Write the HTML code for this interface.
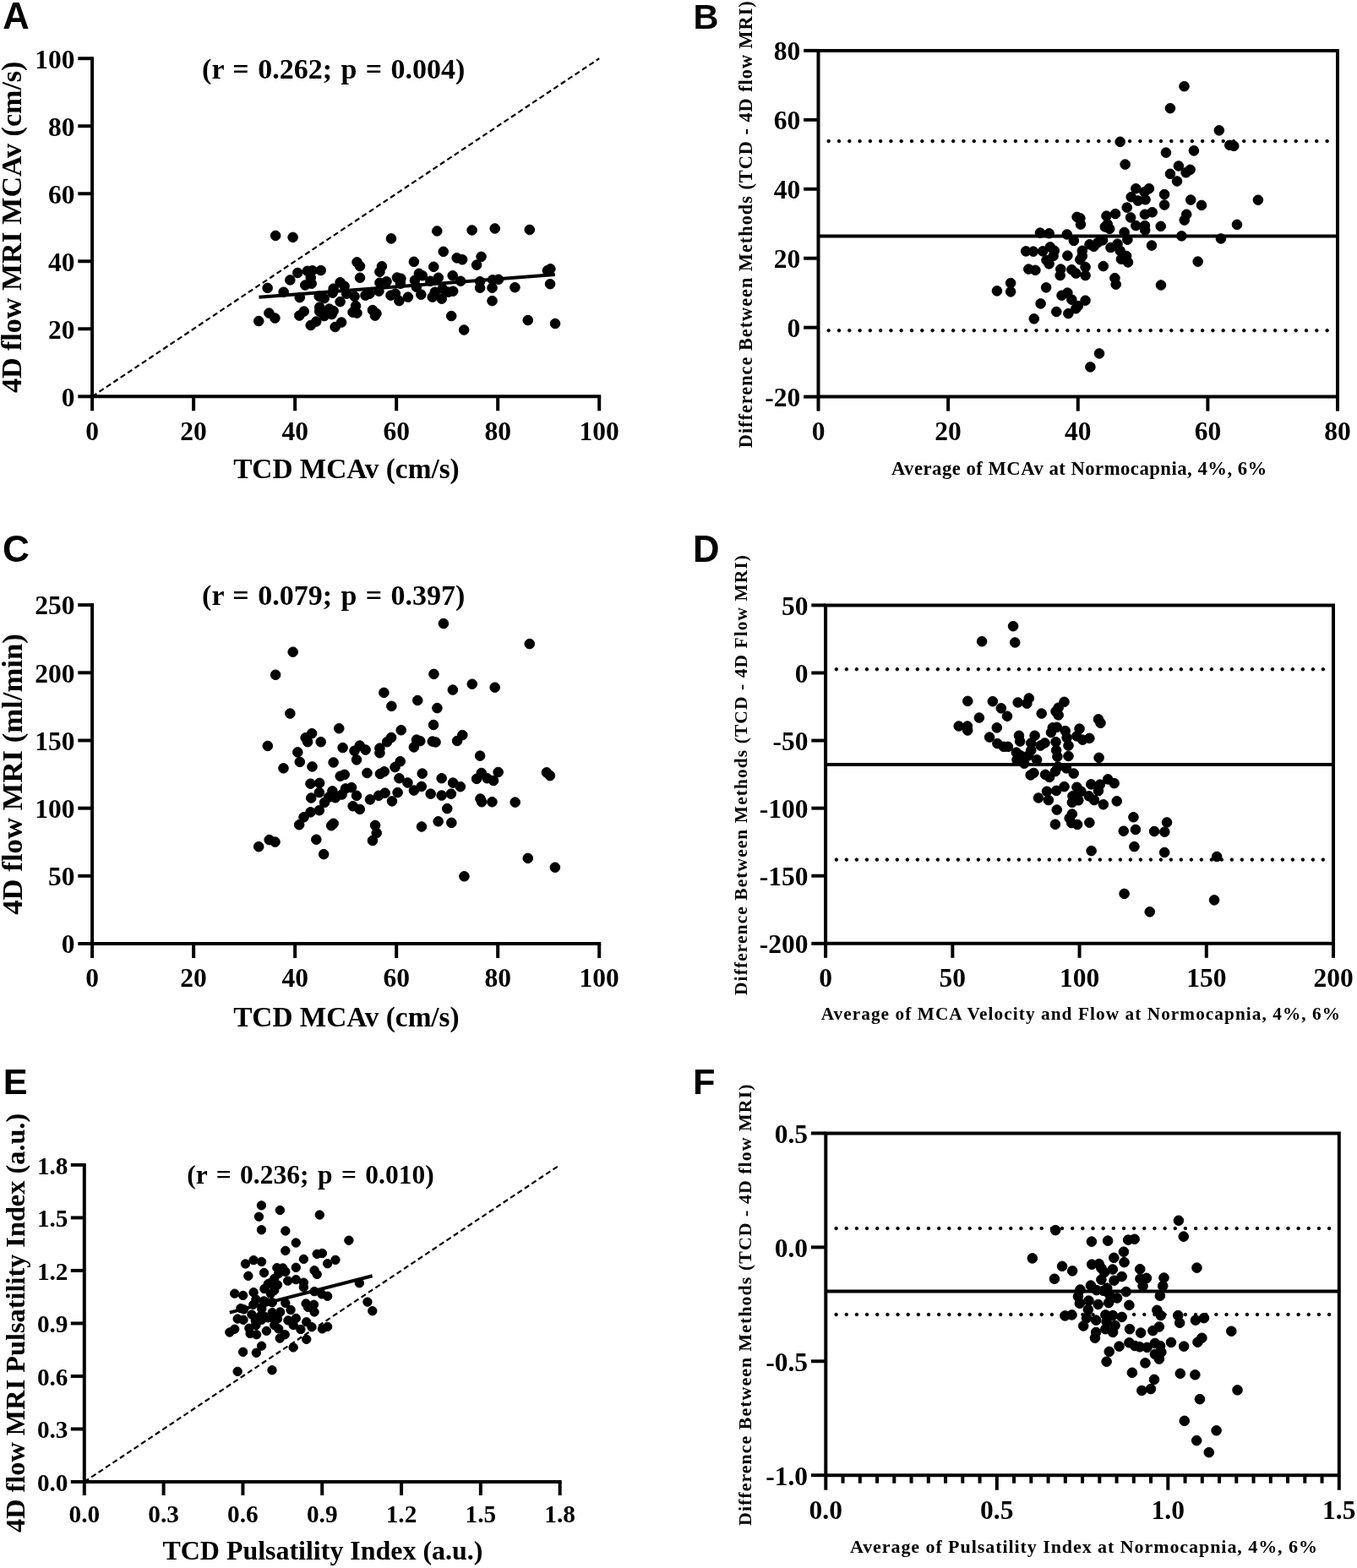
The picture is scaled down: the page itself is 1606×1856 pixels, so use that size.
<!DOCTYPE html>
<html><head><meta charset="utf-8"><title>Figure</title>
<style>
html,body{margin:0;padding:0;background:#fff;}
svg{display:block;}
.t{font-family:"Liberation Serif", "Times New Roman", serif;font-weight:bold;fill:#000;}
.s{font-family:"Liberation Sans", Arial, sans-serif;font-weight:bold;fill:#000;}
</style></head><body>
<svg width="1606" height="1856" viewBox="0 0 1606 1856">
<rect width="1606" height="1856" fill="#fff"/>
<g stroke="#000" fill="#000">
<line x1="109.1" y1="69.2" x2="109.1" y2="469.3" stroke-width="4" stroke-linecap="square"/>
<line x1="109.1" y1="469.3" x2="709.2" y2="469.3" stroke-width="4" stroke-linecap="square"/>
<line x1="109.1" y1="469.3" x2="109.1" y2="486.3" stroke-width="4" stroke-linecap="butt"/>
<line x1="229.12" y1="469.3" x2="229.12" y2="486.3" stroke-width="4" stroke-linecap="butt"/>
<line x1="349.14" y1="469.3" x2="349.14" y2="486.3" stroke-width="4" stroke-linecap="butt"/>
<line x1="469.16" y1="469.3" x2="469.16" y2="486.3" stroke-width="4" stroke-linecap="butt"/>
<line x1="589.18" y1="469.3" x2="589.18" y2="486.3" stroke-width="4" stroke-linecap="butt"/>
<line x1="709.2" y1="469.3" x2="709.2" y2="486.3" stroke-width="4" stroke-linecap="butt"/>
<line x1="92.3" y1="469.3" x2="109.1" y2="469.3" stroke-width="4" stroke-linecap="butt"/>
<line x1="92.3" y1="389.28" x2="109.1" y2="389.28" stroke-width="4" stroke-linecap="butt"/>
<line x1="92.3" y1="309.26" x2="109.1" y2="309.26" stroke-width="4" stroke-linecap="butt"/>
<line x1="92.3" y1="229.24" x2="109.1" y2="229.24" stroke-width="4" stroke-linecap="butt"/>
<line x1="92.3" y1="149.22" x2="109.1" y2="149.22" stroke-width="4" stroke-linecap="butt"/>
<line x1="92.3" y1="69.2" x2="109.1" y2="69.2" stroke-width="4" stroke-linecap="butt"/>
<line x1="109.1" y1="469.3" x2="709.2" y2="69.2" stroke-width="2.2" stroke-linecap="butt" stroke-dasharray="6.3 3.8"/>
<line x1="109.1" y1="716.1" x2="109.1" y2="1117" stroke-width="4" stroke-linecap="square"/>
<line x1="109.1" y1="1117" x2="709.2" y2="1117" stroke-width="4" stroke-linecap="square"/>
<line x1="109.1" y1="1117" x2="109.1" y2="1134" stroke-width="4" stroke-linecap="butt"/>
<line x1="229.12" y1="1117" x2="229.12" y2="1134" stroke-width="4" stroke-linecap="butt"/>
<line x1="349.14" y1="1117" x2="349.14" y2="1134" stroke-width="4" stroke-linecap="butt"/>
<line x1="469.16" y1="1117" x2="469.16" y2="1134" stroke-width="4" stroke-linecap="butt"/>
<line x1="589.18" y1="1117" x2="589.18" y2="1134" stroke-width="4" stroke-linecap="butt"/>
<line x1="709.2" y1="1117" x2="709.2" y2="1134" stroke-width="4" stroke-linecap="butt"/>
<line x1="92.3" y1="1117" x2="109.1" y2="1117" stroke-width="4" stroke-linecap="butt"/>
<line x1="92.3" y1="1036.82" x2="109.1" y2="1036.82" stroke-width="4" stroke-linecap="butt"/>
<line x1="92.3" y1="956.64" x2="109.1" y2="956.64" stroke-width="4" stroke-linecap="butt"/>
<line x1="92.3" y1="876.46" x2="109.1" y2="876.46" stroke-width="4" stroke-linecap="butt"/>
<line x1="92.3" y1="796.28" x2="109.1" y2="796.28" stroke-width="4" stroke-linecap="butt"/>
<line x1="92.3" y1="716.1" x2="109.1" y2="716.1" stroke-width="4" stroke-linecap="butt"/>
<line x1="99.8" y1="1378.88" x2="99.8" y2="1754" stroke-width="4" stroke-linecap="square"/>
<line x1="99.8" y1="1754" x2="662.66" y2="1754" stroke-width="4" stroke-linecap="square"/>
<line x1="99.8" y1="1754" x2="99.8" y2="1770" stroke-width="4" stroke-linecap="butt"/>
<line x1="193.61" y1="1754" x2="193.61" y2="1770" stroke-width="4" stroke-linecap="butt"/>
<line x1="287.42" y1="1754" x2="287.42" y2="1770" stroke-width="4" stroke-linecap="butt"/>
<line x1="381.23" y1="1754" x2="381.23" y2="1770" stroke-width="4" stroke-linecap="butt"/>
<line x1="475.04" y1="1754" x2="475.04" y2="1770" stroke-width="4" stroke-linecap="butt"/>
<line x1="568.85" y1="1754" x2="568.85" y2="1770" stroke-width="4" stroke-linecap="butt"/>
<line x1="662.66" y1="1754" x2="662.66" y2="1770" stroke-width="4" stroke-linecap="butt"/>
<line x1="83.8" y1="1754" x2="99.8" y2="1754" stroke-width="4" stroke-linecap="butt"/>
<line x1="83.8" y1="1691.48" x2="99.8" y2="1691.48" stroke-width="4" stroke-linecap="butt"/>
<line x1="83.8" y1="1628.96" x2="99.8" y2="1628.96" stroke-width="4" stroke-linecap="butt"/>
<line x1="83.8" y1="1566.44" x2="99.8" y2="1566.44" stroke-width="4" stroke-linecap="butt"/>
<line x1="83.8" y1="1503.92" x2="99.8" y2="1503.92" stroke-width="4" stroke-linecap="butt"/>
<line x1="83.8" y1="1441.4" x2="99.8" y2="1441.4" stroke-width="4" stroke-linecap="butt"/>
<line x1="83.8" y1="1378.88" x2="99.8" y2="1378.88" stroke-width="4" stroke-linecap="butt"/>
<line x1="99.8" y1="1754" x2="662.66" y2="1378.88" stroke-width="2.2" stroke-linecap="butt" stroke-dasharray="6.3 3.8"/>
<path d="M968.5,469.6 L968.5,59.9 L1583,59.9 L1583,469.6 Z" fill="none" stroke-width="4" stroke-linecap="square" stroke-linejoin="miter"/>
<line x1="968.5" y1="469.6" x2="968.5" y2="486.6" stroke-width="4" stroke-linecap="butt"/>
<line x1="1122.12" y1="469.6" x2="1122.12" y2="486.6" stroke-width="4" stroke-linecap="butt"/>
<line x1="1275.75" y1="469.6" x2="1275.75" y2="486.6" stroke-width="4" stroke-linecap="butt"/>
<line x1="1429.38" y1="469.6" x2="1429.38" y2="486.6" stroke-width="4" stroke-linecap="butt"/>
<line x1="1583" y1="469.6" x2="1583" y2="486.6" stroke-width="4" stroke-linecap="butt"/>
<line x1="951.1" y1="469.6" x2="968.5" y2="469.6" stroke-width="4" stroke-linecap="butt"/>
<line x1="951.1" y1="387.66" x2="968.5" y2="387.66" stroke-width="4" stroke-linecap="butt"/>
<line x1="951.1" y1="305.72" x2="968.5" y2="305.72" stroke-width="4" stroke-linecap="butt"/>
<line x1="951.1" y1="223.78" x2="968.5" y2="223.78" stroke-width="4" stroke-linecap="butt"/>
<line x1="951.1" y1="141.84" x2="968.5" y2="141.84" stroke-width="4" stroke-linecap="butt"/>
<line x1="951.1" y1="59.9" x2="968.5" y2="59.9" stroke-width="4" stroke-linecap="butt"/>
<line x1="968.5" y1="279.5" x2="1583" y2="279.5" stroke-width="4" stroke-linecap="butt"/>
<circle cx="980.7" cy="167.1" r="1.75"/>
<circle cx="992.99" cy="167.1" r="1.75"/>
<circle cx="1005.28" cy="167.1" r="1.75"/>
<circle cx="1017.57" cy="167.1" r="1.75"/>
<circle cx="1029.86" cy="167.1" r="1.75"/>
<circle cx="1042.15" cy="167.1" r="1.75"/>
<circle cx="1054.44" cy="167.1" r="1.75"/>
<circle cx="1066.73" cy="167.1" r="1.75"/>
<circle cx="1079.02" cy="167.1" r="1.75"/>
<circle cx="1091.31" cy="167.1" r="1.75"/>
<circle cx="1103.6" cy="167.1" r="1.75"/>
<circle cx="1115.89" cy="167.1" r="1.75"/>
<circle cx="1128.17" cy="167.1" r="1.75"/>
<circle cx="1140.46" cy="167.1" r="1.75"/>
<circle cx="1152.75" cy="167.1" r="1.75"/>
<circle cx="1165.04" cy="167.1" r="1.75"/>
<circle cx="1177.33" cy="167.1" r="1.75"/>
<circle cx="1189.62" cy="167.1" r="1.75"/>
<circle cx="1201.91" cy="167.1" r="1.75"/>
<circle cx="1214.2" cy="167.1" r="1.75"/>
<circle cx="1226.49" cy="167.1" r="1.75"/>
<circle cx="1238.78" cy="167.1" r="1.75"/>
<circle cx="1251.07" cy="167.1" r="1.75"/>
<circle cx="1263.36" cy="167.1" r="1.75"/>
<circle cx="1275.65" cy="167.1" r="1.75"/>
<circle cx="1287.94" cy="167.1" r="1.75"/>
<circle cx="1300.23" cy="167.1" r="1.75"/>
<circle cx="1312.52" cy="167.1" r="1.75"/>
<circle cx="1324.81" cy="167.1" r="1.75"/>
<circle cx="1337.1" cy="167.1" r="1.75"/>
<circle cx="1349.39" cy="167.1" r="1.75"/>
<circle cx="1361.68" cy="167.1" r="1.75"/>
<circle cx="1373.97" cy="167.1" r="1.75"/>
<circle cx="1386.26" cy="167.1" r="1.75"/>
<circle cx="1398.55" cy="167.1" r="1.75"/>
<circle cx="1410.84" cy="167.1" r="1.75"/>
<circle cx="1423.12" cy="167.1" r="1.75"/>
<circle cx="1435.41" cy="167.1" r="1.75"/>
<circle cx="1447.7" cy="167.1" r="1.75"/>
<circle cx="1459.99" cy="167.1" r="1.75"/>
<circle cx="1472.28" cy="167.1" r="1.75"/>
<circle cx="1484.57" cy="167.1" r="1.75"/>
<circle cx="1496.86" cy="167.1" r="1.75"/>
<circle cx="1509.15" cy="167.1" r="1.75"/>
<circle cx="1521.44" cy="167.1" r="1.75"/>
<circle cx="1533.73" cy="167.1" r="1.75"/>
<circle cx="1546.02" cy="167.1" r="1.75"/>
<circle cx="1558.31" cy="167.1" r="1.75"/>
<circle cx="1570.6" cy="167.1" r="1.75"/>
<circle cx="980.7" cy="391.2" r="1.75"/>
<circle cx="992.99" cy="391.2" r="1.75"/>
<circle cx="1005.28" cy="391.2" r="1.75"/>
<circle cx="1017.57" cy="391.2" r="1.75"/>
<circle cx="1029.86" cy="391.2" r="1.75"/>
<circle cx="1042.15" cy="391.2" r="1.75"/>
<circle cx="1054.44" cy="391.2" r="1.75"/>
<circle cx="1066.73" cy="391.2" r="1.75"/>
<circle cx="1079.02" cy="391.2" r="1.75"/>
<circle cx="1091.31" cy="391.2" r="1.75"/>
<circle cx="1103.6" cy="391.2" r="1.75"/>
<circle cx="1115.89" cy="391.2" r="1.75"/>
<circle cx="1128.17" cy="391.2" r="1.75"/>
<circle cx="1140.46" cy="391.2" r="1.75"/>
<circle cx="1152.75" cy="391.2" r="1.75"/>
<circle cx="1165.04" cy="391.2" r="1.75"/>
<circle cx="1177.33" cy="391.2" r="1.75"/>
<circle cx="1189.62" cy="391.2" r="1.75"/>
<circle cx="1201.91" cy="391.2" r="1.75"/>
<circle cx="1214.2" cy="391.2" r="1.75"/>
<circle cx="1226.49" cy="391.2" r="1.75"/>
<circle cx="1238.78" cy="391.2" r="1.75"/>
<circle cx="1251.07" cy="391.2" r="1.75"/>
<circle cx="1263.36" cy="391.2" r="1.75"/>
<circle cx="1275.65" cy="391.2" r="1.75"/>
<circle cx="1287.94" cy="391.2" r="1.75"/>
<circle cx="1300.23" cy="391.2" r="1.75"/>
<circle cx="1312.52" cy="391.2" r="1.75"/>
<circle cx="1324.81" cy="391.2" r="1.75"/>
<circle cx="1337.1" cy="391.2" r="1.75"/>
<circle cx="1349.39" cy="391.2" r="1.75"/>
<circle cx="1361.68" cy="391.2" r="1.75"/>
<circle cx="1373.97" cy="391.2" r="1.75"/>
<circle cx="1386.26" cy="391.2" r="1.75"/>
<circle cx="1398.55" cy="391.2" r="1.75"/>
<circle cx="1410.84" cy="391.2" r="1.75"/>
<circle cx="1423.12" cy="391.2" r="1.75"/>
<circle cx="1435.41" cy="391.2" r="1.75"/>
<circle cx="1447.7" cy="391.2" r="1.75"/>
<circle cx="1459.99" cy="391.2" r="1.75"/>
<circle cx="1472.28" cy="391.2" r="1.75"/>
<circle cx="1484.57" cy="391.2" r="1.75"/>
<circle cx="1496.86" cy="391.2" r="1.75"/>
<circle cx="1509.15" cy="391.2" r="1.75"/>
<circle cx="1521.44" cy="391.2" r="1.75"/>
<circle cx="1533.73" cy="391.2" r="1.75"/>
<circle cx="1546.02" cy="391.2" r="1.75"/>
<circle cx="1558.31" cy="391.2" r="1.75"/>
<circle cx="1570.6" cy="391.2" r="1.75"/>
<path d="M977.1,1116.8 L977.1,716.4 L1578,716.4 L1578,1116.8 Z" fill="none" stroke-width="4" stroke-linecap="square" stroke-linejoin="miter"/>
<line x1="977.1" y1="1116.8" x2="977.1" y2="1133.8" stroke-width="4" stroke-linecap="butt"/>
<line x1="1127.33" y1="1116.8" x2="1127.33" y2="1133.8" stroke-width="4" stroke-linecap="butt"/>
<line x1="1277.55" y1="1116.8" x2="1277.55" y2="1133.8" stroke-width="4" stroke-linecap="butt"/>
<line x1="1427.78" y1="1116.8" x2="1427.78" y2="1133.8" stroke-width="4" stroke-linecap="butt"/>
<line x1="1578" y1="1116.8" x2="1578" y2="1133.8" stroke-width="4" stroke-linecap="butt"/>
<line x1="960.3" y1="1116.8" x2="977.1" y2="1116.8" stroke-width="4" stroke-linecap="butt"/>
<line x1="960.3" y1="1036.72" x2="977.1" y2="1036.72" stroke-width="4" stroke-linecap="butt"/>
<line x1="960.3" y1="956.64" x2="977.1" y2="956.64" stroke-width="4" stroke-linecap="butt"/>
<line x1="960.3" y1="876.56" x2="977.1" y2="876.56" stroke-width="4" stroke-linecap="butt"/>
<line x1="960.3" y1="796.48" x2="977.1" y2="796.48" stroke-width="4" stroke-linecap="butt"/>
<line x1="960.3" y1="716.4" x2="977.1" y2="716.4" stroke-width="4" stroke-linecap="butt"/>
<line x1="977.1" y1="904.9" x2="1578" y2="904.9" stroke-width="4" stroke-linecap="butt"/>
<circle cx="989.85" cy="792.2" r="1.75"/>
<circle cx="1001.85" cy="792.2" r="1.75"/>
<circle cx="1013.85" cy="792.2" r="1.75"/>
<circle cx="1025.85" cy="792.2" r="1.75"/>
<circle cx="1037.85" cy="792.2" r="1.75"/>
<circle cx="1049.85" cy="792.2" r="1.75"/>
<circle cx="1061.85" cy="792.2" r="1.75"/>
<circle cx="1073.85" cy="792.2" r="1.75"/>
<circle cx="1085.85" cy="792.2" r="1.75"/>
<circle cx="1097.85" cy="792.2" r="1.75"/>
<circle cx="1109.85" cy="792.2" r="1.75"/>
<circle cx="1121.85" cy="792.2" r="1.75"/>
<circle cx="1133.85" cy="792.2" r="1.75"/>
<circle cx="1145.85" cy="792.2" r="1.75"/>
<circle cx="1157.85" cy="792.2" r="1.75"/>
<circle cx="1169.85" cy="792.2" r="1.75"/>
<circle cx="1181.85" cy="792.2" r="1.75"/>
<circle cx="1193.85" cy="792.2" r="1.75"/>
<circle cx="1205.85" cy="792.2" r="1.75"/>
<circle cx="1217.85" cy="792.2" r="1.75"/>
<circle cx="1229.85" cy="792.2" r="1.75"/>
<circle cx="1241.85" cy="792.2" r="1.75"/>
<circle cx="1253.85" cy="792.2" r="1.75"/>
<circle cx="1265.85" cy="792.2" r="1.75"/>
<circle cx="1277.85" cy="792.2" r="1.75"/>
<circle cx="1289.85" cy="792.2" r="1.75"/>
<circle cx="1301.85" cy="792.2" r="1.75"/>
<circle cx="1313.85" cy="792.2" r="1.75"/>
<circle cx="1325.85" cy="792.2" r="1.75"/>
<circle cx="1337.85" cy="792.2" r="1.75"/>
<circle cx="1349.85" cy="792.2" r="1.75"/>
<circle cx="1361.85" cy="792.2" r="1.75"/>
<circle cx="1373.85" cy="792.2" r="1.75"/>
<circle cx="1385.85" cy="792.2" r="1.75"/>
<circle cx="1397.85" cy="792.2" r="1.75"/>
<circle cx="1409.85" cy="792.2" r="1.75"/>
<circle cx="1421.85" cy="792.2" r="1.75"/>
<circle cx="1433.85" cy="792.2" r="1.75"/>
<circle cx="1445.85" cy="792.2" r="1.75"/>
<circle cx="1457.85" cy="792.2" r="1.75"/>
<circle cx="1469.85" cy="792.2" r="1.75"/>
<circle cx="1481.85" cy="792.2" r="1.75"/>
<circle cx="1493.85" cy="792.2" r="1.75"/>
<circle cx="1505.85" cy="792.2" r="1.75"/>
<circle cx="1517.85" cy="792.2" r="1.75"/>
<circle cx="1529.85" cy="792.2" r="1.75"/>
<circle cx="1541.85" cy="792.2" r="1.75"/>
<circle cx="1553.85" cy="792.2" r="1.75"/>
<circle cx="1565.85" cy="792.2" r="1.75"/>
<circle cx="989.85" cy="1017.6" r="1.75"/>
<circle cx="1001.85" cy="1017.6" r="1.75"/>
<circle cx="1013.85" cy="1017.6" r="1.75"/>
<circle cx="1025.85" cy="1017.6" r="1.75"/>
<circle cx="1037.85" cy="1017.6" r="1.75"/>
<circle cx="1049.85" cy="1017.6" r="1.75"/>
<circle cx="1061.85" cy="1017.6" r="1.75"/>
<circle cx="1073.85" cy="1017.6" r="1.75"/>
<circle cx="1085.85" cy="1017.6" r="1.75"/>
<circle cx="1097.85" cy="1017.6" r="1.75"/>
<circle cx="1109.85" cy="1017.6" r="1.75"/>
<circle cx="1121.85" cy="1017.6" r="1.75"/>
<circle cx="1133.85" cy="1017.6" r="1.75"/>
<circle cx="1145.85" cy="1017.6" r="1.75"/>
<circle cx="1157.85" cy="1017.6" r="1.75"/>
<circle cx="1169.85" cy="1017.6" r="1.75"/>
<circle cx="1181.85" cy="1017.6" r="1.75"/>
<circle cx="1193.85" cy="1017.6" r="1.75"/>
<circle cx="1205.85" cy="1017.6" r="1.75"/>
<circle cx="1217.85" cy="1017.6" r="1.75"/>
<circle cx="1229.85" cy="1017.6" r="1.75"/>
<circle cx="1241.85" cy="1017.6" r="1.75"/>
<circle cx="1253.85" cy="1017.6" r="1.75"/>
<circle cx="1265.85" cy="1017.6" r="1.75"/>
<circle cx="1277.85" cy="1017.6" r="1.75"/>
<circle cx="1289.85" cy="1017.6" r="1.75"/>
<circle cx="1301.85" cy="1017.6" r="1.75"/>
<circle cx="1313.85" cy="1017.6" r="1.75"/>
<circle cx="1325.85" cy="1017.6" r="1.75"/>
<circle cx="1337.85" cy="1017.6" r="1.75"/>
<circle cx="1349.85" cy="1017.6" r="1.75"/>
<circle cx="1361.85" cy="1017.6" r="1.75"/>
<circle cx="1373.85" cy="1017.6" r="1.75"/>
<circle cx="1385.85" cy="1017.6" r="1.75"/>
<circle cx="1397.85" cy="1017.6" r="1.75"/>
<circle cx="1409.85" cy="1017.6" r="1.75"/>
<circle cx="1421.85" cy="1017.6" r="1.75"/>
<circle cx="1433.85" cy="1017.6" r="1.75"/>
<circle cx="1445.85" cy="1017.6" r="1.75"/>
<circle cx="1457.85" cy="1017.6" r="1.75"/>
<circle cx="1469.85" cy="1017.6" r="1.75"/>
<circle cx="1481.85" cy="1017.6" r="1.75"/>
<circle cx="1493.85" cy="1017.6" r="1.75"/>
<circle cx="1505.85" cy="1017.6" r="1.75"/>
<circle cx="1517.85" cy="1017.6" r="1.75"/>
<circle cx="1529.85" cy="1017.6" r="1.75"/>
<circle cx="1541.85" cy="1017.6" r="1.75"/>
<circle cx="1553.85" cy="1017.6" r="1.75"/>
<circle cx="1565.85" cy="1017.6" r="1.75"/>
<path d="M977.3,1746.2 L977.3,1341.4 L1584.8,1341.4 L1584.8,1746.2 Z" fill="none" stroke-width="4" stroke-linecap="square" stroke-linejoin="miter"/>
<line x1="977.3" y1="1746.2" x2="977.3" y2="1763.7" stroke-width="4" stroke-linecap="butt"/>
<line x1="1179.8" y1="1746.2" x2="1179.8" y2="1763.7" stroke-width="4" stroke-linecap="butt"/>
<line x1="1382.3" y1="1746.2" x2="1382.3" y2="1763.7" stroke-width="4" stroke-linecap="butt"/>
<line x1="1584.8" y1="1746.2" x2="1584.8" y2="1763.7" stroke-width="4" stroke-linecap="butt"/>
<line x1="997.55" y1="1746.2" x2="997.55" y2="1755.7" stroke-width="4" stroke-linecap="butt"/>
<line x1="1017.8" y1="1746.2" x2="1017.8" y2="1755.7" stroke-width="4" stroke-linecap="butt"/>
<line x1="1038.05" y1="1746.2" x2="1038.05" y2="1755.7" stroke-width="4" stroke-linecap="butt"/>
<line x1="1058.3" y1="1746.2" x2="1058.3" y2="1755.7" stroke-width="4" stroke-linecap="butt"/>
<line x1="1078.55" y1="1746.2" x2="1078.55" y2="1755.7" stroke-width="4" stroke-linecap="butt"/>
<line x1="1098.8" y1="1746.2" x2="1098.8" y2="1755.7" stroke-width="4" stroke-linecap="butt"/>
<line x1="1119.05" y1="1746.2" x2="1119.05" y2="1755.7" stroke-width="4" stroke-linecap="butt"/>
<line x1="1139.3" y1="1746.2" x2="1139.3" y2="1755.7" stroke-width="4" stroke-linecap="butt"/>
<line x1="1159.55" y1="1746.2" x2="1159.55" y2="1755.7" stroke-width="4" stroke-linecap="butt"/>
<line x1="1200.05" y1="1746.2" x2="1200.05" y2="1755.7" stroke-width="4" stroke-linecap="butt"/>
<line x1="1220.3" y1="1746.2" x2="1220.3" y2="1755.7" stroke-width="4" stroke-linecap="butt"/>
<line x1="1240.55" y1="1746.2" x2="1240.55" y2="1755.7" stroke-width="4" stroke-linecap="butt"/>
<line x1="1260.8" y1="1746.2" x2="1260.8" y2="1755.7" stroke-width="4" stroke-linecap="butt"/>
<line x1="1281.05" y1="1746.2" x2="1281.05" y2="1755.7" stroke-width="4" stroke-linecap="butt"/>
<line x1="1301.3" y1="1746.2" x2="1301.3" y2="1755.7" stroke-width="4" stroke-linecap="butt"/>
<line x1="1321.55" y1="1746.2" x2="1321.55" y2="1755.7" stroke-width="4" stroke-linecap="butt"/>
<line x1="1341.8" y1="1746.2" x2="1341.8" y2="1755.7" stroke-width="4" stroke-linecap="butt"/>
<line x1="1362.05" y1="1746.2" x2="1362.05" y2="1755.7" stroke-width="4" stroke-linecap="butt"/>
<line x1="1402.55" y1="1746.2" x2="1402.55" y2="1755.7" stroke-width="4" stroke-linecap="butt"/>
<line x1="1422.8" y1="1746.2" x2="1422.8" y2="1755.7" stroke-width="4" stroke-linecap="butt"/>
<line x1="1443.05" y1="1746.2" x2="1443.05" y2="1755.7" stroke-width="4" stroke-linecap="butt"/>
<line x1="1463.3" y1="1746.2" x2="1463.3" y2="1755.7" stroke-width="4" stroke-linecap="butt"/>
<line x1="1483.55" y1="1746.2" x2="1483.55" y2="1755.7" stroke-width="4" stroke-linecap="butt"/>
<line x1="1503.8" y1="1746.2" x2="1503.8" y2="1755.7" stroke-width="4" stroke-linecap="butt"/>
<line x1="1524.05" y1="1746.2" x2="1524.05" y2="1755.7" stroke-width="4" stroke-linecap="butt"/>
<line x1="1544.3" y1="1746.2" x2="1544.3" y2="1755.7" stroke-width="4" stroke-linecap="butt"/>
<line x1="1564.55" y1="1746.2" x2="1564.55" y2="1755.7" stroke-width="4" stroke-linecap="butt"/>
<line x1="959.9" y1="1341.4" x2="977.3" y2="1341.4" stroke-width="4" stroke-linecap="butt"/>
<line x1="959.9" y1="1476.33" x2="977.3" y2="1476.33" stroke-width="4" stroke-linecap="butt"/>
<line x1="959.9" y1="1611.27" x2="977.3" y2="1611.27" stroke-width="4" stroke-linecap="butt"/>
<line x1="959.9" y1="1746.2" x2="977.3" y2="1746.2" stroke-width="4" stroke-linecap="butt"/>
<line x1="977.3" y1="1528.6" x2="1584.8" y2="1528.6" stroke-width="4" stroke-linecap="butt"/>
<circle cx="989.6" cy="1454" r="1.75"/>
<circle cx="1001.76" cy="1454" r="1.75"/>
<circle cx="1013.91" cy="1454" r="1.75"/>
<circle cx="1026.07" cy="1454" r="1.75"/>
<circle cx="1038.22" cy="1454" r="1.75"/>
<circle cx="1050.38" cy="1454" r="1.75"/>
<circle cx="1062.54" cy="1454" r="1.75"/>
<circle cx="1074.69" cy="1454" r="1.75"/>
<circle cx="1086.85" cy="1454" r="1.75"/>
<circle cx="1099.01" cy="1454" r="1.75"/>
<circle cx="1111.16" cy="1454" r="1.75"/>
<circle cx="1123.32" cy="1454" r="1.75"/>
<circle cx="1135.47" cy="1454" r="1.75"/>
<circle cx="1147.63" cy="1454" r="1.75"/>
<circle cx="1159.79" cy="1454" r="1.75"/>
<circle cx="1171.94" cy="1454" r="1.75"/>
<circle cx="1184.1" cy="1454" r="1.75"/>
<circle cx="1196.26" cy="1454" r="1.75"/>
<circle cx="1208.41" cy="1454" r="1.75"/>
<circle cx="1220.57" cy="1454" r="1.75"/>
<circle cx="1232.72" cy="1454" r="1.75"/>
<circle cx="1244.88" cy="1454" r="1.75"/>
<circle cx="1257.04" cy="1454" r="1.75"/>
<circle cx="1269.19" cy="1454" r="1.75"/>
<circle cx="1281.35" cy="1454" r="1.75"/>
<circle cx="1293.51" cy="1454" r="1.75"/>
<circle cx="1305.66" cy="1454" r="1.75"/>
<circle cx="1317.82" cy="1454" r="1.75"/>
<circle cx="1329.97" cy="1454" r="1.75"/>
<circle cx="1342.13" cy="1454" r="1.75"/>
<circle cx="1354.29" cy="1454" r="1.75"/>
<circle cx="1366.44" cy="1454" r="1.75"/>
<circle cx="1378.6" cy="1454" r="1.75"/>
<circle cx="1390.76" cy="1454" r="1.75"/>
<circle cx="1402.91" cy="1454" r="1.75"/>
<circle cx="1415.07" cy="1454" r="1.75"/>
<circle cx="1427.22" cy="1454" r="1.75"/>
<circle cx="1439.38" cy="1454" r="1.75"/>
<circle cx="1451.54" cy="1454" r="1.75"/>
<circle cx="1463.69" cy="1454" r="1.75"/>
<circle cx="1475.85" cy="1454" r="1.75"/>
<circle cx="1488.01" cy="1454" r="1.75"/>
<circle cx="1500.16" cy="1454" r="1.75"/>
<circle cx="1512.32" cy="1454" r="1.75"/>
<circle cx="1524.47" cy="1454" r="1.75"/>
<circle cx="1536.63" cy="1454" r="1.75"/>
<circle cx="1548.79" cy="1454" r="1.75"/>
<circle cx="1560.94" cy="1454" r="1.75"/>
<circle cx="1573.1" cy="1454" r="1.75"/>
<circle cx="989.6" cy="1556" r="1.75"/>
<circle cx="1001.76" cy="1556" r="1.75"/>
<circle cx="1013.91" cy="1556" r="1.75"/>
<circle cx="1026.07" cy="1556" r="1.75"/>
<circle cx="1038.22" cy="1556" r="1.75"/>
<circle cx="1050.38" cy="1556" r="1.75"/>
<circle cx="1062.54" cy="1556" r="1.75"/>
<circle cx="1074.69" cy="1556" r="1.75"/>
<circle cx="1086.85" cy="1556" r="1.75"/>
<circle cx="1099.01" cy="1556" r="1.75"/>
<circle cx="1111.16" cy="1556" r="1.75"/>
<circle cx="1123.32" cy="1556" r="1.75"/>
<circle cx="1135.47" cy="1556" r="1.75"/>
<circle cx="1147.63" cy="1556" r="1.75"/>
<circle cx="1159.79" cy="1556" r="1.75"/>
<circle cx="1171.94" cy="1556" r="1.75"/>
<circle cx="1184.1" cy="1556" r="1.75"/>
<circle cx="1196.26" cy="1556" r="1.75"/>
<circle cx="1208.41" cy="1556" r="1.75"/>
<circle cx="1220.57" cy="1556" r="1.75"/>
<circle cx="1232.72" cy="1556" r="1.75"/>
<circle cx="1244.88" cy="1556" r="1.75"/>
<circle cx="1257.04" cy="1556" r="1.75"/>
<circle cx="1269.19" cy="1556" r="1.75"/>
<circle cx="1281.35" cy="1556" r="1.75"/>
<circle cx="1293.51" cy="1556" r="1.75"/>
<circle cx="1305.66" cy="1556" r="1.75"/>
<circle cx="1317.82" cy="1556" r="1.75"/>
<circle cx="1329.97" cy="1556" r="1.75"/>
<circle cx="1342.13" cy="1556" r="1.75"/>
<circle cx="1354.29" cy="1556" r="1.75"/>
<circle cx="1366.44" cy="1556" r="1.75"/>
<circle cx="1378.6" cy="1556" r="1.75"/>
<circle cx="1390.76" cy="1556" r="1.75"/>
<circle cx="1402.91" cy="1556" r="1.75"/>
<circle cx="1415.07" cy="1556" r="1.75"/>
<circle cx="1427.22" cy="1556" r="1.75"/>
<circle cx="1439.38" cy="1556" r="1.75"/>
<circle cx="1451.54" cy="1556" r="1.75"/>
<circle cx="1463.69" cy="1556" r="1.75"/>
<circle cx="1475.85" cy="1556" r="1.75"/>
<circle cx="1488.01" cy="1556" r="1.75"/>
<circle cx="1500.16" cy="1556" r="1.75"/>
<circle cx="1512.32" cy="1556" r="1.75"/>
<circle cx="1524.47" cy="1556" r="1.75"/>
<circle cx="1536.63" cy="1556" r="1.75"/>
<circle cx="1548.79" cy="1556" r="1.75"/>
<circle cx="1560.94" cy="1556" r="1.75"/>
<circle cx="1573.1" cy="1556" r="1.75"/>
<line x1="306.5" y1="351.8" x2="656.8" y2="325" stroke-width="4" stroke-linecap="butt"/>
<line x1="271.8" y1="1553.6" x2="440.6" y2="1510.2" stroke-width="4" stroke-linecap="butt"/>
<circle cx="326.18" cy="278.93" r="5.8"/>
<circle cx="346.61" cy="280.92" r="5.8"/>
<circle cx="316.62" cy="340.9" r="5.8"/>
<circle cx="335.65" cy="345.68" r="5.8"/>
<circle cx="343.32" cy="331.43" r="5.8"/>
<circle cx="352.29" cy="322.96" r="5.8"/>
<circle cx="363.74" cy="320.77" r="5.8"/>
<circle cx="369.72" cy="320.27" r="5.8"/>
<circle cx="379.68" cy="320.07" r="5.8"/>
<circle cx="367.73" cy="328.74" r="5.8"/>
<circle cx="361.25" cy="337.51" r="5.8"/>
<circle cx="368.72" cy="335.72" r="5.8"/>
<circle cx="422.52" cy="310.31" r="5.8"/>
<circle cx="426.01" cy="315.09" r="5.8"/>
<circle cx="426.01" cy="328.74" r="5.8"/>
<circle cx="354.78" cy="352.15" r="5.8"/>
<circle cx="377.69" cy="350.66" r="5.8"/>
<circle cx="383.67" cy="353.15" r="5.8"/>
<circle cx="402.6" cy="334.22" r="5.8"/>
<circle cx="407.58" cy="338.7" r="5.8"/>
<circle cx="394.63" cy="341.69" r="5.8"/>
<circle cx="393.63" cy="346.67" r="5.8"/>
<circle cx="402.6" cy="357.14" r="5.8"/>
<circle cx="410.07" cy="347.67" r="5.8"/>
<circle cx="419.53" cy="350.86" r="5.8"/>
<circle cx="421.03" cy="362.12" r="5.8"/>
<circle cx="417.54" cy="369.59" r="5.8"/>
<circle cx="422.52" cy="370.59" r="5.8"/>
<circle cx="432.48" cy="349.66" r="5.8"/>
<circle cx="437.47" cy="347.67" r="5.8"/>
<circle cx="448.42" cy="344.68" r="5.8"/>
<circle cx="449.42" cy="334.72" r="5.8"/>
<circle cx="449.42" cy="321.77" r="5.8"/>
<circle cx="451.91" cy="315.29" r="5.8"/>
<circle cx="440.95" cy="367.1" r="5.8"/>
<circle cx="445.44" cy="371.08" r="5.8"/>
<circle cx="443.94" cy="373.57" r="5.8"/>
<circle cx="378.19" cy="363.61" r="5.8"/>
<circle cx="378.19" cy="368.59" r="5.8"/>
<circle cx="383.67" cy="374.07" r="5.8"/>
<circle cx="389.65" cy="365.6" r="5.8"/>
<circle cx="394.63" cy="368.09" r="5.8"/>
<circle cx="392.63" cy="372.08" r="5.8"/>
<circle cx="359.76" cy="368.59" r="5.8"/>
<circle cx="354.28" cy="373.57" r="5.8"/>
<circle cx="374.2" cy="380.55" r="5.8"/>
<circle cx="367.73" cy="385.03" r="5.8"/>
<circle cx="404.09" cy="381.54" r="5.8"/>
<circle cx="396.62" cy="387.02" r="5.8"/>
<circle cx="318.41" cy="370.59" r="5.8"/>
<circle cx="325.39" cy="376.56" r="5.8"/>
<circle cx="306.26" cy="380.05" r="5.8"/>
<circle cx="462.97" cy="282.42" r="5.8"/>
<circle cx="517.27" cy="273.45" r="5.8"/>
<circle cx="558.61" cy="272.45" r="5.8"/>
<circle cx="585.71" cy="270.46" r="5.8"/>
<circle cx="524.74" cy="297.86" r="5.8"/>
<circle cx="489.87" cy="309.81" r="5.8"/>
<circle cx="513.28" cy="315.79" r="5.8"/>
<circle cx="540.68" cy="305.33" r="5.8"/>
<circle cx="547.15" cy="307.32" r="5.8"/>
<circle cx="569.57" cy="303.84" r="5.8"/>
<circle cx="564.09" cy="313.6" r="5.8"/>
<circle cx="469.94" cy="328.54" r="5.8"/>
<circle cx="474.43" cy="329.74" r="5.8"/>
<circle cx="473.93" cy="335.72" r="5.8"/>
<circle cx="457.49" cy="333.23" r="5.8"/>
<circle cx="462.47" cy="349.66" r="5.8"/>
<circle cx="467.95" cy="347.67" r="5.8"/>
<circle cx="472.43" cy="356.14" r="5.8"/>
<circle cx="482.9" cy="351.66" r="5.8"/>
<circle cx="490.87" cy="331.73" r="5.8"/>
<circle cx="495.85" cy="323.76" r="5.8"/>
<circle cx="499.83" cy="326.25" r="5.8"/>
<circle cx="492.86" cy="339.7" r="5.8"/>
<circle cx="498.34" cy="348.67" r="5.8"/>
<circle cx="509.3" cy="332.73" r="5.8"/>
<circle cx="518.76" cy="328.74" r="5.8"/>
<circle cx="514.78" cy="345.68" r="5.8"/>
<circle cx="511.79" cy="351.66" r="5.8"/>
<circle cx="522.75" cy="353.65" r="5.8"/>
<circle cx="523.74" cy="341.69" r="5.8"/>
<circle cx="530.72" cy="345.68" r="5.8"/>
<circle cx="536.2" cy="344.68" r="5.8"/>
<circle cx="535.7" cy="326.25" r="5.8"/>
<circle cx="545.16" cy="332.73" r="5.8"/>
<circle cx="568.08" cy="333.23" r="5.8"/>
<circle cx="568.08" cy="340.7" r="5.8"/>
<circle cx="583.02" cy="331.23" r="5.8"/>
<circle cx="589.99" cy="330.73" r="5.8"/>
<circle cx="582.52" cy="340.7" r="5.8"/>
<circle cx="609.42" cy="340.2" r="5.8"/>
<circle cx="582.52" cy="356.14" r="5.8"/>
<circle cx="534.2" cy="374.07" r="5.8"/>
<circle cx="549.15" cy="390.51" r="5.8"/>
<circle cx="626.76" cy="271.96" r="5.8"/>
<circle cx="647.88" cy="320.27" r="5.8"/>
<circle cx="651.36" cy="318.28" r="5.8"/>
<circle cx="651.06" cy="336.21" r="5.8"/>
<circle cx="624.76" cy="379.05" r="5.8"/>
<circle cx="657.04" cy="383.04" r="5.8"/>
<circle cx="1325.65" cy="167.81" r="5.8"/>
<circle cx="1331.63" cy="194.59" r="5.8"/>
<circle cx="1344.33" cy="223.23" r="5.8"/>
<circle cx="1359.89" cy="223.23" r="5.8"/>
<circle cx="1338.72" cy="233.19" r="5.8"/>
<circle cx="1346.82" cy="237.55" r="5.8"/>
<circle cx="1355.54" cy="236.31" r="5.8"/>
<circle cx="1333.74" cy="245.65" r="5.8"/>
<circle cx="1320.04" cy="253.12" r="5.8"/>
<circle cx="1309.46" cy="255.61" r="5.8"/>
<circle cx="1338.1" cy="257.48" r="5.8"/>
<circle cx="1354.91" cy="253.74" r="5.8"/>
<circle cx="1363.63" cy="251.25" r="5.8"/>
<circle cx="1274.59" cy="256.86" r="5.8"/>
<circle cx="1278.33" cy="258.35" r="5.8"/>
<circle cx="1278.95" cy="265.57" r="5.8"/>
<circle cx="1310.7" cy="265.32" r="5.8"/>
<circle cx="1344.33" cy="267.07" r="5.8"/>
<circle cx="1354.91" cy="267.07" r="5.8"/>
<circle cx="1401.49" cy="102.19" r="5.8"/>
<circle cx="1384.93" cy="128.21" r="5.8"/>
<circle cx="1442.83" cy="154.36" r="5.8"/>
<circle cx="1455.29" cy="171.8" r="5.8"/>
<circle cx="1460.27" cy="172.8" r="5.8"/>
<circle cx="1379.94" cy="180.64" r="5.8"/>
<circle cx="1412.95" cy="178.4" r="5.8"/>
<circle cx="1394.89" cy="196.46" r="5.8"/>
<circle cx="1384.93" cy="205.8" r="5.8"/>
<circle cx="1393.02" cy="214.51" r="5.8"/>
<circle cx="1403.61" cy="204.3" r="5.8"/>
<circle cx="1408.59" cy="200.82" r="5.8"/>
<circle cx="1378.08" cy="230.08" r="5.8"/>
<circle cx="1378.08" cy="242.53" r="5.8"/>
<circle cx="1409.21" cy="236.56" r="5.8"/>
<circle cx="1422.04" cy="242.91" r="5.8"/>
<circle cx="1488.91" cy="236.68" r="5.8"/>
<circle cx="1404.23" cy="253.74" r="5.8"/>
<circle cx="1401.74" cy="260.59" r="5.8"/>
<circle cx="1464" cy="265.82" r="5.8"/>
<circle cx="1373.72" cy="267.81" r="5.8"/>
<circle cx="1231" cy="275.6" r="5.8"/>
<circle cx="1241.59" cy="276.23" r="5.8"/>
<circle cx="1262.76" cy="277.47" r="5.8"/>
<circle cx="1270.85" cy="284.94" r="5.8"/>
<circle cx="1330.63" cy="274.98" r="5.8"/>
<circle cx="1334.36" cy="283.7" r="5.8"/>
<circle cx="1305.1" cy="284.32" r="5.8"/>
<circle cx="1294.51" cy="291.79" r="5.8"/>
<circle cx="1289.53" cy="289.3" r="5.8"/>
<circle cx="1314.44" cy="293.04" r="5.8"/>
<circle cx="1322.53" cy="288.68" r="5.8"/>
<circle cx="1325.65" cy="296.77" r="5.8"/>
<circle cx="1333.12" cy="303" r="5.8"/>
<circle cx="1326.89" cy="306.74" r="5.8"/>
<circle cx="1334.99" cy="310.47" r="5.8"/>
<circle cx="1363.01" cy="290.55" r="5.8"/>
<circle cx="1214.19" cy="297.4" r="5.8"/>
<circle cx="1222.91" cy="297.65" r="5.8"/>
<circle cx="1234.12" cy="297.4" r="5.8"/>
<circle cx="1242.83" cy="292.42" r="5.8"/>
<circle cx="1247.81" cy="296.77" r="5.8"/>
<circle cx="1246.57" cy="303" r="5.8"/>
<circle cx="1238.47" cy="307.98" r="5.8"/>
<circle cx="1241.59" cy="312.34" r="5.8"/>
<circle cx="1263.38" cy="302.63" r="5.8"/>
<circle cx="1280.82" cy="296.77" r="5.8"/>
<circle cx="1280.82" cy="303" r="5.8"/>
<circle cx="1278.33" cy="307.36" r="5.8"/>
<circle cx="1284.55" cy="316.08" r="5.8"/>
<circle cx="1284.55" cy="326.04" r="5.8"/>
<circle cx="1268.36" cy="319.19" r="5.8"/>
<circle cx="1273.34" cy="323.55" r="5.8"/>
<circle cx="1255.29" cy="318.57" r="5.8"/>
<circle cx="1254.66" cy="326.04" r="5.8"/>
<circle cx="1217.3" cy="318.57" r="5.8"/>
<circle cx="1225.4" cy="319.81" r="5.8"/>
<circle cx="1305.72" cy="315.08" r="5.8"/>
<circle cx="1319.42" cy="329.15" r="5.8"/>
<circle cx="1320.67" cy="336.63" r="5.8"/>
<circle cx="1196.13" cy="335.01" r="5.8"/>
<circle cx="1196.13" cy="345.34" r="5.8"/>
<circle cx="1179.94" cy="344.35" r="5.8"/>
<circle cx="1238.1" cy="340.36" r="5.8"/>
<circle cx="1256.53" cy="349.7" r="5.8"/>
<circle cx="1263.38" cy="346.59" r="5.8"/>
<circle cx="1268.36" cy="354.68" r="5.8"/>
<circle cx="1284.55" cy="355.68" r="5.8"/>
<circle cx="1275.83" cy="362.15" r="5.8"/>
<circle cx="1273.34" cy="365.27" r="5.8"/>
<circle cx="1231.63" cy="359.41" r="5.8"/>
<circle cx="1250.31" cy="369" r="5.8"/>
<circle cx="1264.38" cy="371.12" r="5.8"/>
<circle cx="1223.78" cy="377.35" r="5.8"/>
<circle cx="1300.99" cy="418.44" r="5.8"/>
<circle cx="1290.4" cy="434.38" r="5.8"/>
<circle cx="1398.37" cy="279.34" r="5.8"/>
<circle cx="1444.95" cy="282.45" r="5.8"/>
<circle cx="1417.68" cy="309.6" r="5.8"/>
<circle cx="1373.97" cy="337.5" r="5.8"/>
<circle cx="1354.5" cy="227.2" r="5.8"/>
<circle cx="1313.2" cy="270.8" r="5.8"/>
<circle cx="1307.8" cy="268.5" r="5.8"/>
<circle cx="1355.2" cy="272.4" r="5.8"/>
<circle cx="1299.2" cy="287.2" r="5.8"/>
<circle cx="346.68" cy="771.72" r="5.8"/>
<circle cx="326.13" cy="798.74" r="5.8"/>
<circle cx="454.4" cy="819.91" r="5.8"/>
<circle cx="463.37" cy="835.85" r="5.8"/>
<circle cx="343.32" cy="844.57" r="5.8"/>
<circle cx="494.25" cy="829" r="5.8"/>
<circle cx="401.23" cy="862.25" r="5.8"/>
<circle cx="369.1" cy="868.23" r="5.8"/>
<circle cx="361.63" cy="873.21" r="5.8"/>
<circle cx="364.12" cy="878.19" r="5.8"/>
<circle cx="379.68" cy="878.19" r="5.8"/>
<circle cx="316.79" cy="882.93" r="5.8"/>
<circle cx="352.29" cy="890.4" r="5.8"/>
<circle cx="354.78" cy="901.86" r="5.8"/>
<circle cx="369.47" cy="907.46" r="5.8"/>
<circle cx="335.47" cy="909.33" r="5.8"/>
<circle cx="405.59" cy="885.04" r="5.8"/>
<circle cx="419.53" cy="888.78" r="5.8"/>
<circle cx="425.76" cy="882.55" r="5.8"/>
<circle cx="432.61" cy="887.53" r="5.8"/>
<circle cx="422.02" cy="899.36" r="5.8"/>
<circle cx="394.63" cy="902.48" r="5.8"/>
<circle cx="449.42" cy="885.67" r="5.8"/>
<circle cx="449.42" cy="891.27" r="5.8"/>
<circle cx="458.14" cy="878.19" r="5.8"/>
<circle cx="463.12" cy="872.96" r="5.8"/>
<circle cx="474.7" cy="864.25" r="5.8"/>
<circle cx="489.89" cy="884.42" r="5.8"/>
<circle cx="473.7" cy="901.23" r="5.8"/>
<circle cx="467.48" cy="908.08" r="5.8"/>
<circle cx="524.89" cy="738.09" r="5.8"/>
<circle cx="626.76" cy="762.13" r="5.8"/>
<circle cx="513.43" cy="797.87" r="5.8"/>
<circle cx="535.85" cy="816.55" r="5.8"/>
<circle cx="558.76" cy="809.7" r="5.8"/>
<circle cx="585.66" cy="813.69" r="5.8"/>
<circle cx="517.42" cy="838.09" r="5.8"/>
<circle cx="513.06" cy="858.02" r="5.8"/>
<circle cx="547.3" cy="870.1" r="5.8"/>
<circle cx="541.08" cy="876.95" r="5.8"/>
<circle cx="511.81" cy="877.57" r="5.8"/>
<circle cx="515.55" cy="878.44" r="5.8"/>
<circle cx="497.24" cy="877.2" r="5.8"/>
<circle cx="568.1" cy="894.63" r="5.8"/>
<circle cx="402.72" cy="918.74" r="5.8"/>
<circle cx="407.7" cy="916.87" r="5.8"/>
<circle cx="434.48" cy="915" r="5.8"/>
<circle cx="472.46" cy="921.23" r="5.8"/>
<circle cx="482.42" cy="926.46" r="5.8"/>
<circle cx="489.89" cy="935.55" r="5.8"/>
<circle cx="367.48" cy="927.7" r="5.8"/>
<circle cx="378.19" cy="926.83" r="5.8"/>
<circle cx="377.81" cy="938.04" r="5.8"/>
<circle cx="368.23" cy="944.51" r="5.8"/>
<circle cx="393.38" cy="936.42" r="5.8"/>
<circle cx="384.04" cy="949.87" r="5.8"/>
<circle cx="389.02" cy="943.64" r="5.8"/>
<circle cx="396.87" cy="944.27" r="5.8"/>
<circle cx="404.59" cy="940.53" r="5.8"/>
<circle cx="408.95" cy="933.43" r="5.8"/>
<circle cx="416.05" cy="932.19" r="5.8"/>
<circle cx="422.02" cy="941.77" r="5.8"/>
<circle cx="417.67" cy="954.23" r="5.8"/>
<circle cx="425.76" cy="957.96" r="5.8"/>
<circle cx="437.96" cy="946.38" r="5.8"/>
<circle cx="448.18" cy="941.77" r="5.8"/>
<circle cx="455.65" cy="938.66" r="5.8"/>
<circle cx="463.99" cy="948.37" r="5.8"/>
<circle cx="470.59" cy="938.04" r="5.8"/>
<circle cx="377.81" cy="959.21" r="5.8"/>
<circle cx="367.48" cy="961.33" r="5.8"/>
<circle cx="359.51" cy="967.3" r="5.8"/>
<circle cx="354.15" cy="976.27" r="5.8"/>
<circle cx="392.14" cy="977.27" r="5.8"/>
<circle cx="394.63" cy="974.78" r="5.8"/>
<circle cx="444.07" cy="976.89" r="5.8"/>
<circle cx="445.68" cy="985.98" r="5.8"/>
<circle cx="440.95" cy="994.95" r="5.8"/>
<circle cx="374.33" cy="993.7" r="5.8"/>
<circle cx="383.17" cy="1011.14" r="5.8"/>
<circle cx="318.66" cy="994.08" r="5.8"/>
<circle cx="325.51" cy="996.57" r="5.8"/>
<circle cx="306.21" cy="1002.17" r="5.8"/>
<circle cx="499.73" cy="915.62" r="5.8"/>
<circle cx="564.12" cy="921.85" r="5.8"/>
<circle cx="569.72" cy="915" r="5.8"/>
<circle cx="576.57" cy="921.23" r="5.8"/>
<circle cx="584.04" cy="923.97" r="5.8"/>
<circle cx="589.65" cy="914" r="5.8"/>
<circle cx="646.93" cy="914.38" r="5.8"/>
<circle cx="650.92" cy="918.11" r="5.8"/>
<circle cx="522.65" cy="921.23" r="5.8"/>
<circle cx="536.1" cy="926.58" r="5.8"/>
<circle cx="544.81" cy="931.19" r="5.8"/>
<circle cx="498.74" cy="930.94" r="5.8"/>
<circle cx="509.69" cy="939.66" r="5.8"/>
<circle cx="522.65" cy="941.53" r="5.8"/>
<circle cx="533.85" cy="939.66" r="5.8"/>
<circle cx="529.25" cy="957.09" r="5.8"/>
<circle cx="568.47" cy="945.51" r="5.8"/>
<circle cx="570.09" cy="949.25" r="5.8"/>
<circle cx="582.42" cy="949.25" r="5.8"/>
<circle cx="609.69" cy="949.62" r="5.8"/>
<circle cx="518.66" cy="972.29" r="5.8"/>
<circle cx="534.35" cy="973.9" r="5.8"/>
<circle cx="498.99" cy="978.51" r="5.8"/>
<circle cx="624.76" cy="1015.87" r="5.8"/>
<circle cx="656.89" cy="1026.71" r="5.8"/>
<circle cx="549.42" cy="1037.29" r="5.8"/>
<circle cx="449.9" cy="916" r="5.8"/>
<circle cx="454.7" cy="913.3" r="5.8"/>
<circle cx="493" cy="875.6" r="5.8"/>
<circle cx="1199.1" cy="741.21" r="5.8"/>
<circle cx="1162.11" cy="759.27" r="5.8"/>
<circle cx="1201.21" cy="760.51" r="5.8"/>
<circle cx="1145.3" cy="829.88" r="5.8"/>
<circle cx="1174.81" cy="830.25" r="5.8"/>
<circle cx="1184.78" cy="838.34" r="5.8"/>
<circle cx="1192" cy="847.68" r="5.8"/>
<circle cx="1158.87" cy="849.55" r="5.8"/>
<circle cx="1204.7" cy="831.49" r="5.8"/>
<circle cx="1217.78" cy="826.51" r="5.8"/>
<circle cx="1215.29" cy="832.74" r="5.8"/>
<circle cx="1232.72" cy="844.57" r="5.8"/>
<circle cx="1259.5" cy="830.87" r="5.8"/>
<circle cx="1252.65" cy="837.72" r="5.8"/>
<circle cx="1249.53" cy="842.08" r="5.8"/>
<circle cx="1252.65" cy="846.44" r="5.8"/>
<circle cx="1299.97" cy="851.42" r="5.8"/>
<circle cx="1302.46" cy="855.78" r="5.8"/>
<circle cx="1134.71" cy="859.51" r="5.8"/>
<circle cx="1144.93" cy="859.51" r="5.8"/>
<circle cx="1145.17" cy="864.5" r="5.8"/>
<circle cx="1179.79" cy="861.38" r="5.8"/>
<circle cx="1171.08" cy="872.59" r="5.8"/>
<circle cx="1180.42" cy="880.06" r="5.8"/>
<circle cx="1187.89" cy="883.8" r="5.8"/>
<circle cx="1192.87" cy="883.8" r="5.8"/>
<circle cx="1205.95" cy="870.72" r="5.8"/>
<circle cx="1207.19" cy="877.57" r="5.8"/>
<circle cx="1202.83" cy="890.65" r="5.8"/>
<circle cx="1203.46" cy="899.36" r="5.8"/>
<circle cx="1212.17" cy="903.72" r="5.8"/>
<circle cx="1217.15" cy="894.38" r="5.8"/>
<circle cx="1220.27" cy="879.44" r="5.8"/>
<circle cx="1220.27" cy="888.16" r="5.8"/>
<circle cx="1224.63" cy="870.72" r="5.8"/>
<circle cx="1227.12" cy="899.36" r="5.8"/>
<circle cx="1231.48" cy="882.55" r="5.8"/>
<circle cx="1236.46" cy="879.44" r="5.8"/>
<circle cx="1243.93" cy="866.99" r="5.8"/>
<circle cx="1245.8" cy="861.38" r="5.8"/>
<circle cx="1250.78" cy="860.76" r="5.8"/>
<circle cx="1249.53" cy="878.19" r="5.8"/>
<circle cx="1250.16" cy="888.16" r="5.8"/>
<circle cx="1251.4" cy="895.63" r="5.8"/>
<circle cx="1260.74" cy="865.12" r="5.8"/>
<circle cx="1262.61" cy="873.21" r="5.8"/>
<circle cx="1264.48" cy="882.55" r="5.8"/>
<circle cx="1264.48" cy="895.01" r="5.8"/>
<circle cx="1274.44" cy="871.34" r="5.8"/>
<circle cx="1277.55" cy="862.63" r="5.8"/>
<circle cx="1281.29" cy="875.7" r="5.8"/>
<circle cx="1289.38" cy="873.84" r="5.8"/>
<circle cx="1300.59" cy="896.87" r="5.8"/>
<circle cx="1252.02" cy="907.46" r="5.8"/>
<circle cx="1207.81" cy="894.38" r="5.8"/>
<circle cx="1261.99" cy="909.34" r="5.8"/>
<circle cx="1248.91" cy="913.08" r="5.8"/>
<circle cx="1219.65" cy="917.43" r="5.8"/>
<circle cx="1223.38" cy="914.94" r="5.8"/>
<circle cx="1237.08" cy="916.81" r="5.8"/>
<circle cx="1242.06" cy="919.93" r="5.8"/>
<circle cx="1270.7" cy="915.57" r="5.8"/>
<circle cx="1259.5" cy="931.13" r="5.8"/>
<circle cx="1250.16" cy="935.87" r="5.8"/>
<circle cx="1238.95" cy="936.74" r="5.8"/>
<circle cx="1228.99" cy="944.46" r="5.8"/>
<circle cx="1240.82" cy="947.07" r="5.8"/>
<circle cx="1274.44" cy="931.76" r="5.8"/>
<circle cx="1279.42" cy="936.74" r="5.8"/>
<circle cx="1269.46" cy="942.34" r="5.8"/>
<circle cx="1268.84" cy="949.81" r="5.8"/>
<circle cx="1276.31" cy="947.32" r="5.8"/>
<circle cx="1291.25" cy="928.39" r="5.8"/>
<circle cx="1301.84" cy="928.64" r="5.8"/>
<circle cx="1299.97" cy="936.11" r="5.8"/>
<circle cx="1311.18" cy="922.42" r="5.8"/>
<circle cx="1318.65" cy="927.15" r="5.8"/>
<circle cx="1288.76" cy="942.34" r="5.8"/>
<circle cx="1294.99" cy="947.07" r="5.8"/>
<circle cx="1305.82" cy="952.3" r="5.8"/>
<circle cx="1321.76" cy="948.32" r="5.8"/>
<circle cx="1250.78" cy="958.53" r="5.8"/>
<circle cx="1268.84" cy="963.51" r="5.8"/>
<circle cx="1265.72" cy="968.49" r="5.8"/>
<circle cx="1268.21" cy="974.1" r="5.8"/>
<circle cx="1275.06" cy="975.97" r="5.8"/>
<circle cx="1248.91" cy="975.72" r="5.8"/>
<circle cx="1289.38" cy="973.72" r="5.8"/>
<circle cx="1291.63" cy="1007.1" r="5.8"/>
<circle cx="1341.44" cy="967.25" r="5.8"/>
<circle cx="1329.73" cy="983.69" r="5.8"/>
<circle cx="1343.93" cy="981.94" r="5.8"/>
<circle cx="1366.1" cy="984.06" r="5.8"/>
<circle cx="1378.3" cy="984.68" r="5.8"/>
<circle cx="1381.04" cy="973.47" r="5.8"/>
<circle cx="1342.43" cy="1002.12" r="5.8"/>
<circle cx="1378.18" cy="1008.97" r="5.8"/>
<circle cx="1440.19" cy="1013.95" r="5.8"/>
<circle cx="1330.6" cy="1057.91" r="5.8"/>
<circle cx="1437.08" cy="1065.38" r="5.8"/>
<circle cx="1360.74" cy="1079.33" r="5.8"/>
<circle cx="309.42" cy="1426.83" r="5.2"/>
<circle cx="331.34" cy="1432.43" r="5.2"/>
<circle cx="306.43" cy="1440.16" r="5.2"/>
<circle cx="378.29" cy="1438.04" r="5.2"/>
<circle cx="309.42" cy="1455.72" r="5.2"/>
<circle cx="337.81" cy="1456.97" r="5.2"/>
<circle cx="350.27" cy="1471.04" r="5.2"/>
<circle cx="412.91" cy="1468.18" r="5.2"/>
<circle cx="337.81" cy="1480.38" r="5.2"/>
<circle cx="375.17" cy="1484.36" r="5.2"/>
<circle cx="381.4" cy="1483.49" r="5.2"/>
<circle cx="359.36" cy="1490.34" r="5.2"/>
<circle cx="396.97" cy="1491.34" r="5.2"/>
<circle cx="387.63" cy="1495.7" r="5.2"/>
<circle cx="290.49" cy="1495.95" r="5.2"/>
<circle cx="300.08" cy="1491.59" r="5.2"/>
<circle cx="309.55" cy="1493.46" r="5.2"/>
<circle cx="327.85" cy="1500.68" r="5.2"/>
<circle cx="334.7" cy="1500.93" r="5.2"/>
<circle cx="337.81" cy="1505.29" r="5.2"/>
<circle cx="350.27" cy="1500.31" r="5.2"/>
<circle cx="372.06" cy="1503.67" r="5.2"/>
<circle cx="375.17" cy="1508.4" r="5.2"/>
<circle cx="312.53" cy="1506.53" r="5.2"/>
<circle cx="293.85" cy="1510.27" r="5.2"/>
<circle cx="324.74" cy="1513.38" r="5.2"/>
<circle cx="317.27" cy="1519.61" r="5.2"/>
<circle cx="328.47" cy="1520.85" r="5.2"/>
<circle cx="340.68" cy="1516.12" r="5.2"/>
<circle cx="350.27" cy="1514.63" r="5.2"/>
<circle cx="359.36" cy="1518.11" r="5.2"/>
<circle cx="425.36" cy="1518.74" r="5.2"/>
<circle cx="359.36" cy="1523.68" r="5.2"/>
<circle cx="312.91" cy="1525.55" r="5.2"/>
<circle cx="320.38" cy="1531.15" r="5.2"/>
<circle cx="277.67" cy="1531.15" r="5.2"/>
<circle cx="287.63" cy="1533.39" r="5.2"/>
<circle cx="300.08" cy="1529.66" r="5.2"/>
<circle cx="372.06" cy="1528.66" r="5.2"/>
<circle cx="380.78" cy="1531.77" r="5.2"/>
<circle cx="387.63" cy="1534.27" r="5.2"/>
<circle cx="302.95" cy="1538" r="5.2"/>
<circle cx="312.29" cy="1539.87" r="5.2"/>
<circle cx="322.25" cy="1541.74" r="5.2"/>
<circle cx="337.81" cy="1542.36" r="5.2"/>
<circle cx="299.83" cy="1544.23" r="5.2"/>
<circle cx="284.89" cy="1548.59" r="5.2"/>
<circle cx="288.62" cy="1549.83" r="5.2"/>
<circle cx="309.79" cy="1549.21" r="5.2"/>
<circle cx="362.1" cy="1542.98" r="5.2"/>
<circle cx="371.44" cy="1544.23" r="5.2"/>
<circle cx="364.59" cy="1547.34" r="5.2"/>
<circle cx="372.06" cy="1552.95" r="5.2"/>
<circle cx="344.04" cy="1550.45" r="5.2"/>
<circle cx="331.59" cy="1552.95" r="5.2"/>
<circle cx="322.25" cy="1553.57" r="5.2"/>
<circle cx="297.96" cy="1556.06" r="5.2"/>
<circle cx="308.55" cy="1557.3" r="5.2"/>
<circle cx="317.27" cy="1559.79" r="5.2"/>
<circle cx="281.15" cy="1561.04" r="5.2"/>
<circle cx="288" cy="1562.29" r="5.2"/>
<circle cx="309.79" cy="1562.29" r="5.2"/>
<circle cx="328.47" cy="1561.04" r="5.2"/>
<circle cx="350.27" cy="1560.42" r="5.2"/>
<circle cx="340.93" cy="1562.91" r="5.2"/>
<circle cx="347.15" cy="1568.51" r="5.2"/>
<circle cx="362.72" cy="1564.78" r="5.2"/>
<circle cx="368.95" cy="1570.75" r="5.2"/>
<circle cx="355.87" cy="1573.49" r="5.2"/>
<circle cx="387.63" cy="1570.38" r="5.2"/>
<circle cx="381.4" cy="1572.87" r="5.2"/>
<circle cx="434.95" cy="1541.11" r="5.2"/>
<circle cx="440.8" cy="1551.7" r="5.2"/>
<circle cx="294.85" cy="1572.25" r="5.2"/>
<circle cx="302.95" cy="1568.51" r="5.2"/>
<circle cx="324.74" cy="1568.51" r="5.2"/>
<circle cx="329.72" cy="1572.87" r="5.2"/>
<circle cx="315.4" cy="1575.36" r="5.2"/>
<circle cx="296.1" cy="1578.47" r="5.2"/>
<circle cx="303.57" cy="1579.72" r="5.2"/>
<circle cx="277.67" cy="1573.24" r="5.2"/>
<circle cx="271.81" cy="1576.98" r="5.2"/>
<circle cx="337.19" cy="1579.72" r="5.2"/>
<circle cx="331.21" cy="1584.08" r="5.2"/>
<circle cx="362.72" cy="1585.32" r="5.2"/>
<circle cx="309.55" cy="1593.17" r="5.2"/>
<circle cx="287.63" cy="1600.27" r="5.2"/>
<circle cx="303.32" cy="1601.26" r="5.2"/>
<circle cx="347.15" cy="1594.91" r="5.2"/>
<circle cx="281.15" cy="1623.39" r="5.2"/>
<circle cx="322" cy="1621.77" r="5.2"/>
<circle cx="329.7" cy="1507.5" r="5.2"/>
<circle cx="319.8" cy="1518.7" r="5.2"/>
<circle cx="324.7" cy="1527.4" r="5.2"/>
<circle cx="314.8" cy="1541.1" r="5.2"/>
<circle cx="313.5" cy="1558.5" r="5.2"/>
<circle cx="302.3" cy="1563.5" r="5.2"/>
<circle cx="324.7" cy="1562.3" r="5.2"/>
<circle cx="1394.91" cy="1444.71" r="5.8"/>
<circle cx="1400.77" cy="1463.64" r="5.8"/>
<circle cx="1249.21" cy="1456.17" r="5.8"/>
<circle cx="1291.92" cy="1469.62" r="5.8"/>
<circle cx="1311.1" cy="1468.62" r="5.8"/>
<circle cx="1335.14" cy="1467.63" r="5.8"/>
<circle cx="1342.61" cy="1466.76" r="5.8"/>
<circle cx="1221.81" cy="1489.42" r="5.8"/>
<circle cx="1329.91" cy="1481.7" r="5.8"/>
<circle cx="1318.33" cy="1488.8" r="5.8"/>
<circle cx="1330.53" cy="1494.15" r="5.8"/>
<circle cx="1257.05" cy="1498.76" r="5.8"/>
<circle cx="1269.13" cy="1504.36" r="5.8"/>
<circle cx="1292.17" cy="1496.64" r="5.8"/>
<circle cx="1300.64" cy="1496.02" r="5.8"/>
<circle cx="1303.38" cy="1501" r="5.8"/>
<circle cx="1307.12" cy="1505.98" r="5.8"/>
<circle cx="1316.83" cy="1502.5" r="5.8"/>
<circle cx="1349.21" cy="1502.25" r="5.8"/>
<circle cx="1247.96" cy="1513.7" r="5.8"/>
<circle cx="1303.38" cy="1514.7" r="5.8"/>
<circle cx="1318.57" cy="1515.7" r="5.8"/>
<circle cx="1327.67" cy="1510.97" r="5.8"/>
<circle cx="1349.46" cy="1513.7" r="5.8"/>
<circle cx="1356.93" cy="1512.83" r="5.8"/>
<circle cx="1352.57" cy="1522.17" r="5.8"/>
<circle cx="1377.48" cy="1512.46" r="5.8"/>
<circle cx="1376.23" cy="1522.17" r="5.8"/>
<circle cx="1372.87" cy="1533.75" r="5.8"/>
<circle cx="1290.93" cy="1521.55" r="5.8"/>
<circle cx="1278.47" cy="1526.53" r="5.8"/>
<circle cx="1297.78" cy="1527.15" r="5.8"/>
<circle cx="1305.87" cy="1527.78" r="5.8"/>
<circle cx="1310.23" cy="1524.66" r="5.8"/>
<circle cx="1312.72" cy="1531.51" r="5.8"/>
<circle cx="1332.65" cy="1529.02" r="5.8"/>
<circle cx="1275.98" cy="1534.63" r="5.8"/>
<circle cx="1277.85" cy="1542.72" r="5.8"/>
<circle cx="1288.44" cy="1539.61" r="5.8"/>
<circle cx="1299.65" cy="1543.97" r="5.8"/>
<circle cx="1312.1" cy="1542.1" r="5.8"/>
<circle cx="1314.59" cy="1537.12" r="5.8"/>
<circle cx="1322.06" cy="1536.49" r="5.8"/>
<circle cx="1336.38" cy="1544.84" r="5.8"/>
<circle cx="1287.81" cy="1550.19" r="5.8"/>
<circle cx="1260.42" cy="1557.42" r="5.8"/>
<circle cx="1268.51" cy="1556.42" r="5.8"/>
<circle cx="1369.38" cy="1550.82" r="5.8"/>
<circle cx="1373.74" cy="1557.04" r="5.8"/>
<circle cx="1394.29" cy="1557.04" r="5.8"/>
<circle cx="1396.16" cy="1565.76" r="5.8"/>
<circle cx="1308.36" cy="1556.42" r="5.8"/>
<circle cx="1317.08" cy="1557.04" r="5.8"/>
<circle cx="1327.67" cy="1558.91" r="5.8"/>
<circle cx="1285.95" cy="1560.16" r="5.8"/>
<circle cx="1297.15" cy="1562.65" r="5.8"/>
<circle cx="1282.21" cy="1569.5" r="5.8"/>
<circle cx="1309.61" cy="1564.51" r="5.8"/>
<circle cx="1319.57" cy="1568.87" r="5.8"/>
<circle cx="1308.36" cy="1573.23" r="5.8"/>
<circle cx="1337" cy="1573.23" r="5.8"/>
<circle cx="1371.87" cy="1570.49" r="5.8"/>
<circle cx="1364.4" cy="1575.1" r="5.8"/>
<circle cx="1297.15" cy="1576.97" r="5.8"/>
<circle cx="1350.08" cy="1577.59" r="5.8"/>
<circle cx="1317.08" cy="1576.97" r="5.8"/>
<circle cx="1416.46" cy="1500.63" r="5.8"/>
<circle cx="1414.96" cy="1562.65" r="5.8"/>
<circle cx="1424.93" cy="1560.16" r="5.8"/>
<circle cx="1457.3" cy="1575.72" r="5.8"/>
<circle cx="1295.91" cy="1583.7" r="5.8"/>
<circle cx="1336.38" cy="1589.3" r="5.8"/>
<circle cx="1343.23" cy="1593.04" r="5.8"/>
<circle cx="1348.84" cy="1594.28" r="5.8"/>
<circle cx="1357.55" cy="1594.91" r="5.8"/>
<circle cx="1366.89" cy="1589.93" r="5.8"/>
<circle cx="1373.12" cy="1593.04" r="5.8"/>
<circle cx="1374.36" cy="1600.51" r="5.8"/>
<circle cx="1366.89" cy="1603" r="5.8"/>
<circle cx="1371.87" cy="1608.61" r="5.8"/>
<circle cx="1324.55" cy="1593.66" r="5.8"/>
<circle cx="1312.72" cy="1599.89" r="5.8"/>
<circle cx="1309.61" cy="1611.72" r="5.8"/>
<circle cx="1385.95" cy="1588.93" r="5.8"/>
<circle cx="1401.14" cy="1593.66" r="5.8"/>
<circle cx="1355.44" cy="1613.34" r="5.8"/>
<circle cx="1339.87" cy="1624.79" r="5.8"/>
<circle cx="1396.78" cy="1625.79" r="5.8"/>
<circle cx="1366.02" cy="1632.89" r="5.8"/>
<circle cx="1361.91" cy="1644.1" r="5.8"/>
<circle cx="1351.33" cy="1645.97" r="5.8"/>
<circle cx="1401.76" cy="1681.83" r="5.8"/>
<circle cx="1422.43" cy="1583.7" r="5.8"/>
<circle cx="1417.45" cy="1588.68" r="5.8"/>
<circle cx="1414.34" cy="1627.29" r="5.8"/>
<circle cx="1464.53" cy="1645.34" r="5.8"/>
<circle cx="1419.94" cy="1656.18" r="5.8"/>
<circle cx="1439.62" cy="1693.29" r="5.8"/>
<circle cx="1416.21" cy="1705.12" r="5.8"/>
<circle cx="1430.78" cy="1719.19" r="5.8"/>
</g>
<text class="s" x="3.27" y="33.56" font-size="43.54">A</text>
<text class="s" x="820.62" y="33.58" font-size="41.55">B</text>
<text class="s" x="2.93" y="664.73" font-size="44.2">C</text>
<text class="s" x="819.88" y="664.82" font-size="43.6">D</text>
<text class="s" x="3.71" y="1294.85" font-size="43.37">E</text>
<text class="s" x="819.95" y="1294.85" font-size="43.37">F</text>
<text class="t" x="239.09" y="93.44" font-size="34" word-spacing="1.94">(r = 0.262; p = 0.004)</text>
<text class="t" x="239.09" y="715.62" font-size="34" word-spacing="1.94">(r = 0.079; p = 0.397)</text>
<text class="t" x="221.33" y="1401.18" font-size="31.5" word-spacing="2.58">(r = 0.236; p = 0.010)</text>
<text class="t" x="276.15" y="566.47" font-size="33.3">TCD MCAv (cm/s)</text>
<text class="t" x="1054.91" y="561.73" font-size="22.68" textLength="444.28" lengthAdjust="spacing">Average of MCAv at Normocapnia, 4%, 6%</text>
<text class="t" x="276.14" y="1214.72" font-size="33.31">TCD MCAv (cm/s)</text>
<text class="t" x="971.63" y="1207.06" font-size="21.24" textLength="614.43" lengthAdjust="spacing">Average of MCA Velocity and Flow at Normocapnia, 4%, 6%</text>
<text class="t" x="192.45" y="1846.43" font-size="31.96">TCD Pulsatility Index (a.u.)</text>
<text class="t" x="1005.94" y="1837.65" font-size="22.01" textLength="552.94" lengthAdjust="spacing">Average of Pulsatility Index at Normocapnia, 4%, 6%</text>
<text class="t" x="25.48" y="465.07" font-size="34.04" transform="rotate(-90 25.48 465.07)">4D flow MRI MCAv (cm/s)</text>
<text class="t" x="889.89" y="530.16" font-size="22.31" transform="rotate(-90 889.89 530.16)" textLength="528.97" lengthAdjust="spacing">Difference Between Methods (TCD - 4D flow MRI)</text>
<text class="t" x="25.53" y="1082.73" font-size="34.71" transform="rotate(-90 25.53 1082.73)">4D flow MRI (ml/min)</text>
<text class="t" x="884.21" y="1177.94" font-size="21.38" transform="rotate(-90 884.21 1177.94)" textLength="520.91" lengthAdjust="spacing">Difference Between Methods (TCD - 4D Flow MRI)</text>
<text class="t" x="28.79" y="1813.94" font-size="32.3" transform="rotate(-90 28.79 1813.94)">4D flow MRI Pulsatility Index (a.u.)</text>
<text class="t" x="889.29" y="1805.93" font-size="21.86" transform="rotate(-90 889.29 1805.93)" textLength="522.43" lengthAdjust="spacing">Difference Between Methods (TCD - 4D flow MRI)</text>
<text class="t" x="109.1" y="520.6" font-size="31.5" text-anchor="middle">0</text>
<text class="t" x="229.12" y="520.6" font-size="31.5" text-anchor="middle">20</text>
<text class="t" x="349.14" y="520.6" font-size="31.5" text-anchor="middle">40</text>
<text class="t" x="469.16" y="520.6" font-size="31.5" text-anchor="middle">60</text>
<text class="t" x="589.18" y="520.6" font-size="31.5" text-anchor="middle">80</text>
<text class="t" x="709.2" y="520.6" font-size="31.5" text-anchor="middle">100</text>
<text class="t" x="88.5" y="480.6" font-size="31.5" text-anchor="end">0</text>
<text class="t" x="88.5" y="400.58" font-size="31.5" text-anchor="end">20</text>
<text class="t" x="88.5" y="320.56" font-size="31.5" text-anchor="end">40</text>
<text class="t" x="88.5" y="240.54" font-size="31.5" text-anchor="end">60</text>
<text class="t" x="88.5" y="160.52" font-size="31.5" text-anchor="end">80</text>
<text class="t" x="88.5" y="80.5" font-size="31.5" text-anchor="end">100</text>
<text class="t" x="109.1" y="1168.3" font-size="31.5" text-anchor="middle">0</text>
<text class="t" x="229.12" y="1168.3" font-size="31.5" text-anchor="middle">20</text>
<text class="t" x="349.14" y="1168.3" font-size="31.5" text-anchor="middle">40</text>
<text class="t" x="469.16" y="1168.3" font-size="31.5" text-anchor="middle">60</text>
<text class="t" x="589.18" y="1168.3" font-size="31.5" text-anchor="middle">80</text>
<text class="t" x="709.2" y="1168.3" font-size="31.5" text-anchor="middle">100</text>
<text class="t" x="88.5" y="1128.3" font-size="31.5" text-anchor="end">0</text>
<text class="t" x="88.5" y="1048.12" font-size="31.5" text-anchor="end">50</text>
<text class="t" x="88.5" y="967.94" font-size="31.5" text-anchor="end">100</text>
<text class="t" x="88.5" y="887.76" font-size="31.5" text-anchor="end">150</text>
<text class="t" x="88.5" y="807.58" font-size="31.5" text-anchor="end">200</text>
<text class="t" x="88.5" y="727.4" font-size="31.5" text-anchor="end">250</text>
<text class="t" x="99.8" y="1802" font-size="29.3" text-anchor="middle">0.0</text>
<text class="t" x="193.61" y="1802" font-size="29.3" text-anchor="middle">0.3</text>
<text class="t" x="287.42" y="1802" font-size="29.3" text-anchor="middle">0.6</text>
<text class="t" x="381.23" y="1802" font-size="29.3" text-anchor="middle">0.9</text>
<text class="t" x="475.04" y="1802" font-size="29.3" text-anchor="middle">1.2</text>
<text class="t" x="568.85" y="1802" font-size="29.3" text-anchor="middle">1.5</text>
<text class="t" x="662.66" y="1802" font-size="29.3" text-anchor="middle">1.8</text>
<text class="t" x="80.5" y="1765" font-size="29.3" text-anchor="end">0.0</text>
<text class="t" x="80.5" y="1702.48" font-size="29.3" text-anchor="end">0.3</text>
<text class="t" x="80.5" y="1639.96" font-size="29.3" text-anchor="end">0.6</text>
<text class="t" x="80.5" y="1577.44" font-size="29.3" text-anchor="end">0.9</text>
<text class="t" x="80.5" y="1514.92" font-size="29.3" text-anchor="end">1.2</text>
<text class="t" x="80.5" y="1452.4" font-size="29.3" text-anchor="end">1.5</text>
<text class="t" x="80.5" y="1389.88" font-size="29.3" text-anchor="end">1.8</text>
<text class="t" x="968.5" y="520.9" font-size="31.5" text-anchor="middle">0</text>
<text class="t" x="1122.12" y="520.9" font-size="31.5" text-anchor="middle">20</text>
<text class="t" x="1275.75" y="520.9" font-size="31.5" text-anchor="middle">40</text>
<text class="t" x="1429.38" y="520.9" font-size="31.5" text-anchor="middle">60</text>
<text class="t" x="1583" y="520.9" font-size="31.5" text-anchor="middle">80</text>
<text class="t" x="947.3" y="480.9" font-size="31.5" text-anchor="end">-20</text>
<text class="t" x="947.3" y="398.96" font-size="31.5" text-anchor="end">0</text>
<text class="t" x="947.3" y="317.02" font-size="31.5" text-anchor="end">20</text>
<text class="t" x="947.3" y="235.08" font-size="31.5" text-anchor="end">40</text>
<text class="t" x="947.3" y="153.14" font-size="31.5" text-anchor="end">60</text>
<text class="t" x="947.3" y="71.2" font-size="31.5" text-anchor="end">80</text>
<text class="t" x="977.1" y="1168.1" font-size="31.5" text-anchor="middle">0</text>
<text class="t" x="1127.33" y="1168.1" font-size="31.5" text-anchor="middle">50</text>
<text class="t" x="1277.55" y="1168.1" font-size="31.5" text-anchor="middle">100</text>
<text class="t" x="1427.78" y="1168.1" font-size="31.5" text-anchor="middle">150</text>
<text class="t" x="1578" y="1168.1" font-size="31.5" text-anchor="middle">200</text>
<text class="t" x="956.5" y="1128.1" font-size="31.5" text-anchor="end">-200</text>
<text class="t" x="956.5" y="1048.02" font-size="31.5" text-anchor="end">-150</text>
<text class="t" x="956.5" y="967.94" font-size="31.5" text-anchor="end">-100</text>
<text class="t" x="956.5" y="887.86" font-size="31.5" text-anchor="end">-50</text>
<text class="t" x="956.5" y="807.78" font-size="31.5" text-anchor="end">0</text>
<text class="t" x="956.5" y="727.7" font-size="31.5" text-anchor="end">50</text>
<text class="t" x="977.3" y="1797.5" font-size="31.5" text-anchor="middle">0.0</text>
<text class="t" x="1179.8" y="1797.5" font-size="31.5" text-anchor="middle">0.5</text>
<text class="t" x="1382.3" y="1797.5" font-size="31.5" text-anchor="middle">1.0</text>
<text class="t" x="1584.8" y="1797.5" font-size="31.5" text-anchor="middle">1.5</text>
<text class="t" x="956.1" y="1352.7" font-size="31.5" text-anchor="end">0.5</text>
<text class="t" x="956.1" y="1487.63" font-size="31.5" text-anchor="end">0.0</text>
<text class="t" x="956.1" y="1622.57" font-size="31.5" text-anchor="end">-0.5</text>
<text class="t" x="956.1" y="1757.5" font-size="31.5" text-anchor="end">-1.0</text>
</svg>
</body></html>
